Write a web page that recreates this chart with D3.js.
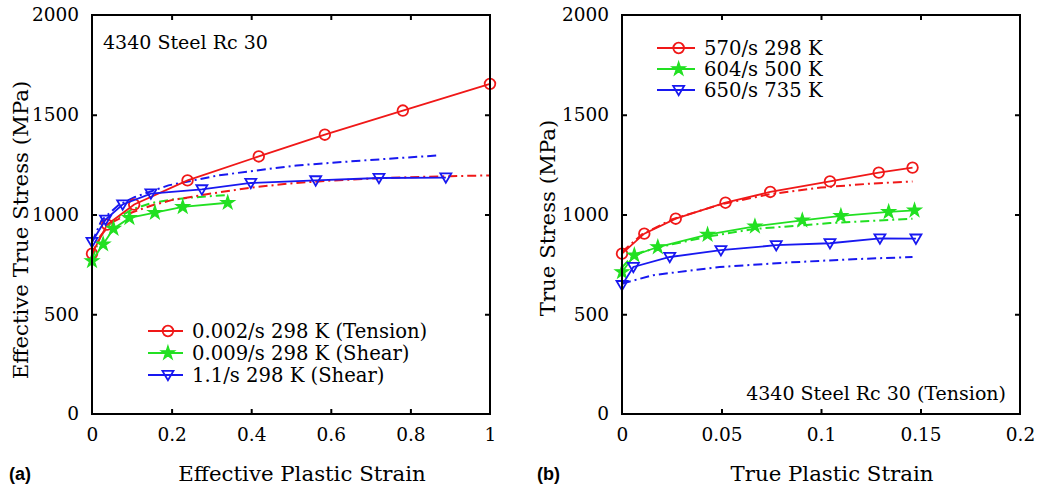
<!DOCTYPE html>
<html><head><meta charset="utf-8">
<script src="https://cdn.jsdelivr.net/npm/d3@7"></script>
<style>
html,body{margin:0;padding:0;background:#fff;}
svg text{font-family:"DejaVu Serif",serif;fill:#000;}
</style></head>
<body>
<svg id="chart" width="1043" height="490"></svg>
<script>
// ---------- Panel (a) data ----------
const aTensionX = [0, 0.038, 0.106, 0.24, 0.419, 0.585, 0.781, 1.0];
const aTensionY = [804, 949, 1050, 1171, 1291, 1400, 1521, 1655];
const aShear1X = [0, 0.028, 0.054, 0.094, 0.158, 0.228, 0.341];
const aShear1Y = [767, 851, 929, 983, 1009, 1038, 1059];
const aShear2X = [0, 0.034, 0.077, 0.148, 0.276, 0.399, 0.562, 0.721, 0.889];
const aShear2Y = [862, 974, 1050, 1105, 1126, 1158, 1171, 1183, 1185];
// model (dash-dot) curves
const aTensionModelX = [0, 0.02, 0.05, 0.1, 0.15, 0.2, 0.3, 0.4, 0.5, 0.6, 0.7, 0.8, 0.9, 1.0];
const aTensionModelY = [800, 890, 960, 1010, 1045, 1072, 1105, 1135, 1156, 1170, 1180, 1187, 1192, 1196];
const aShear1ModelX = [0, 0.02, 0.05, 0.1, 0.15, 0.2, 0.25, 0.34];
const aShear1ModelY = [775, 885, 965, 1025, 1058, 1075, 1085, 1098];
const aShear2ModelX = [0, 0.024, 0.066, 0.108, 0.192, 0.317, 0.514, 0.682, 0.87];
const aShear2ModelY = [862, 971, 1046, 1088, 1146, 1196, 1246, 1271, 1296];
const aLegend = ["0.002/s 298 K (Tension)", "0.009/s 298 K (Shear)", "1.1/s 298 K (Shear)"];
const aXTicks = [0, 0.2, 0.4, 0.6, 0.8, 1];
const aXTickLabels = ["0", "0.2", "0.4", "0.6", "0.8", "1"];

// ---------- Panel (b) data ----------
const b298X = [0, 0.0112, 0.027, 0.052, 0.0745, 0.1045, 0.129, 0.146];
const b298Y = [804, 904, 979, 1059, 1113, 1166, 1210, 1235];
const b500X = [0, 0.0062, 0.018, 0.043, 0.0668, 0.0906, 0.11, 0.134, 0.147];
const b500Y = [712, 796, 837, 899, 941, 971, 993, 1013, 1021];
const b735X = [0, 0.0057, 0.024, 0.0497, 0.0775, 0.1045, 0.1296, 0.1477];
const b735Y = [646, 737, 787, 821, 846, 856, 880, 879];
const b298ModelX = [0, 0.01, 0.025, 0.05, 0.075, 0.1, 0.125, 0.146];
const b298ModelY = [812, 900, 975, 1052, 1103, 1135, 1155, 1166];
const b500ModelX = [0, 0.006, 0.019, 0.043, 0.066, 0.1045, 0.146];
const b500ModelY = [735, 800, 837, 889, 927, 957, 979];
const b735ModelX = [0, 0.0157, 0.049, 0.0828, 0.116, 0.146];
const b735ModelY = [654, 696, 737, 759, 776, 787];
const bLegend = ["570/s 298 K", "604/s 500 K", "650/s 735 K"];
const bXTicks = [0, 0.05, 0.1, 0.15, 0.2];
const bXTickLabels = ["0", "0.05", "0.1", "0.15", "0.2"];

const yTicks = [0, 500, 1000, 1500, 2000];
const yTickLabels = ["0", "500", "1000", "1500", "2000"];

const RED = "#f01818", GREEN = "#22e022", BLUE = "#1818f0";
const zip = (xs, ys) => xs.map((x, i) => [x, ys[i]]);

const svg = d3.select("#chart");

function panel(opt) {
  const x = d3.scaleLinear().domain(opt.xDomain).range([opt.left, opt.right]);
  const y = d3.scaleLinear().domain([0, 2000]).range([414, 15]);
  const g = svg.append("g");
  const line = d3.line().x(d => x(d[0])).y(d => y(d[1]));

  // model curves (dash-dot)
  opt.models.forEach(m => {
    g.append("path").attr("d", line(m.data)).attr("fill", "none")
      .attr("stroke", m.color).attr("stroke-width", 2).attr("stroke-dasharray", "9,4,2,4");
  });
  // experimental curves
  opt.series.forEach(s => {
    g.append("path").attr("d", line(s.data)).attr("fill", "none")
      .attr("stroke", s.color).attr("stroke-width", 1.8);
    s.data.forEach(d => drawMarker(g, s.marker, x(d[0]), y(d[1]), s.color));
  });

  // frame
  g.append("rect").attr("x", opt.left).attr("y", 15).attr("width", opt.right - opt.left)
    .attr("height", 399).attr("fill", "none").attr("stroke", "#000").attr("stroke-width", 2);

  // axes (ticks inward) using d3 axes
  const xb = d3.axisBottom(x).tickValues(opt.xTicks).tickSize(-5).tickPadding(14)
    .tickFormat((d, i) => opt.xTickLabels[i]);
  const gx = g.append("g").attr("transform", "translate(0,414)").call(xb);
  const xt = d3.axisTop(x).tickValues(opt.xTicks).tickSize(-5).tickFormat("");
  const gxt = g.append("g").attr("transform", "translate(0,15)").call(xt);
  const yl = d3.axisLeft(y).tickValues(yTicks).tickSize(-5).tickPadding(13)
    .tickFormat((d, i) => yTickLabels[i]);
  const gy = g.append("g").attr("transform", `translate(${opt.left},0)`).call(yl);
  const yr = d3.axisRight(y).tickValues(yTicks).tickSize(-5).tickFormat("");
  const gyr = g.append("g").attr("transform", `translate(${opt.right},0)`).call(yr);
  [gx, gxt, gy, gyr].forEach(a => {
    a.select(".domain").remove();
    a.selectAll(".tick line").attr("stroke", "#000").attr("stroke-width", 2);
    a.selectAll(".tick text").style("font-family", '"DejaVu Serif", serif').style("font-size", "18.5px").attr("fill", "#000");
  });
  [gx, gxt].forEach(a => a.selectAll(".tick line").filter(d => d === opt.xDomain[0] || d === opt.xDomain[1]).remove());
  [gy, gyr].forEach(a => a.selectAll(".tick line").filter(d => d === 0 || d === 2000).remove());

  // axis titles
  g.append("text").attr("x", opt.xTitleX).attr("y", 481).attr("text-anchor", "middle")
    .style("font-size", "21.3px").text(opt.xTitle);
  g.append("text").attr("transform", `translate(${opt.yTitleX},${opt.yTitleY}) rotate(-90)`)
    .attr("text-anchor", "middle").style("font-size", "21.3px").text(opt.yTitle);
  // panel letter
  g.append("text").attr("x", opt.letterX).attr("y", 480)
    .style("font-family", '"Liberation Sans", Arial, sans-serif').style("font-weight", "bold")
    .style("font-size", "18px").text(opt.letter);

  // legend
  opt.series.forEach((s, i) => {
    const ly = opt.legY + i * opt.legDy;
    g.append("line").attr("x1", opt.legX).attr("x2", opt.legX + opt.legLen)
      .attr("y1", ly).attr("y2", ly).attr("stroke", s.color).attr("stroke-width", 1.8);
    drawMarker(g, s.marker, opt.legX + opt.legLen * 0.57, ly, s.color);
    g.append("text").attr("x", opt.legX + opt.legLen + 9).attr("y", ly + 7)
      .style("font-size", "19.6px").text(opt.legend[i]);
  });
  // annotation
  g.append("text").attr("x", opt.noteX).attr("y", opt.noteY).attr("text-anchor", opt.noteAnchor)
    .style("font-size", "19px").text(opt.note);
}

function drawMarker(g, type, cx, cy, color) {
  if (type === "circle") {
    g.append("circle").attr("cx", cx).attr("cy", cy).attr("r", 5.3)
      .attr("fill", "none").attr("stroke", color).attr("stroke-width", 1.8);
  } else if (type === "star") {
    g.append("path").attr("d", d3.symbol(d3.symbolStar, 58)())
      .attr("transform", `translate(${cx},${cy})`)
      .attr("fill", color).attr("stroke", color).attr("stroke-width", 1.2);
  } else {
    const s = 5.5;
    g.append("path").attr("d", `M${cx - s},${cy - s * 0.75}L${cx + s},${cy - s * 0.75}L${cx},${cy + s * 0.95}Z`)
      .attr("fill", "none").attr("stroke", color).attr("stroke-width", 1.8);
  }
}

panel({
  xDomain: [0, 1], left: 92, right: 490, xTicks: aXTicks, xTickLabels: aXTickLabels,
  series: [
    {data: zip(aTensionX, aTensionY), color: RED, marker: "circle"},
    {data: zip(aShear1X, aShear1Y), color: GREEN, marker: "star"},
    {data: zip(aShear2X, aShear2Y), color: BLUE, marker: "tri"}
  ],
  models: [
    {data: zip(aShear1ModelX, aShear1ModelY), color: GREEN},
    {data: zip(aTensionModelX, aTensionModelY), color: RED},
    {data: zip(aShear2ModelX, aShear2ModelY), color: BLUE}
  ],
  xTitle: "Effective Plastic Strain", xTitleX: 302,
  yTitle: "Effective True Stress (MPa)", yTitleX: 28, yTitleY: 230,
  letter: "(a)", letterX: 9,
  legend: aLegend, legX: 148, legY: 331, legDy: 22, legLen: 35,
  note: "4340 Steel Rc 30", noteX: 103, noteY: 49, noteAnchor: "start"
});

panel({
  xDomain: [0, 0.2], left: 622, right: 1020, xTicks: bXTicks, xTickLabels: bXTickLabels,
  series: [
    {data: zip(b298X, b298Y), color: RED, marker: "circle"},
    {data: zip(b500X, b500Y), color: GREEN, marker: "star"},
    {data: zip(b735X, b735Y), color: BLUE, marker: "tri"}
  ],
  models: [
    {data: zip(b298ModelX, b298ModelY), color: RED},
    {data: zip(b500ModelX, b500ModelY), color: GREEN},
    {data: zip(b735ModelX, b735ModelY), color: BLUE}
  ],
  xTitle: "True Plastic Strain", xTitleX: 832,
  yTitle: "True Stress (MPa)", yTitleX: 555, yTitleY: 218,
  letter: "(b)", letterX: 537,
  legend: bLegend, legX: 657, legY: 48, legDy: 21, legLen: 38,
  note: "4340 Steel Rc 30 (Tension)", noteX: 1006, noteY: 400, noteAnchor: "end"
});
</script>
</body></html>
